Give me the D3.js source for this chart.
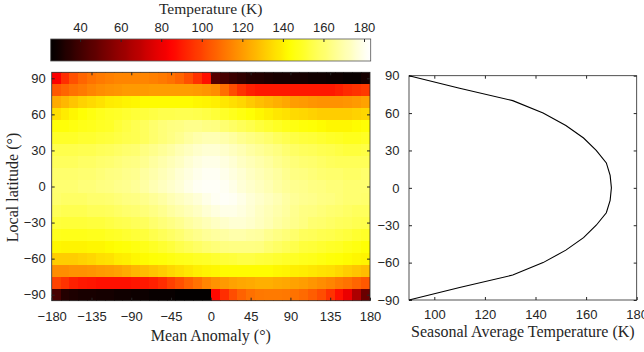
<!DOCTYPE html>
<html>
<head>
<meta charset="utf-8">
<script src="https://cdn.jsdelivr.net/npm/d3@7"></script>
<style>
  body { margin: 0; background: #fff; }
  svg text { fill: #262626; }
  .tick text { font-family: "Liberation Sans", Arial, sans-serif; font-size: 13px; }
  .tick line { stroke: #262626; }
  .lbl { font-family: "Liberation Serif", "Times New Roman", serif; font-size: 16px; }
</style>
</head>
<body>
<svg id="chart" width="644" height="352"></svg>
<script>
// latitude rows (cell centres) and mean anomaly columns (cell centres, 10 deg wide)
const lats = [90, 80, 70, 60, 50, 40, 30, 20, 10, 0, -10, -20, -30, -40, -50, -60, -70, -80, -90];
const anomalies = d3.range(-175, 180, 10);

// temperature (K), one row per latitude, columns -175 .. 175
const temps = [
  /* 90 */ [84, 95, 103, 108, 111, 113, 114, 115, 115, 115, 115, 114, 113, 111, 108, 103, 96, 88, 45, 42, 39, 36, 34, 33, 32, 31, 31, 30, 30, 29, 29, 28, 28, 27, 27, 30],
  /* 80 */ [105, 108, 111, 113, 115, 117, 118, 119, 120, 120, 120, 121, 121, 121, 121, 121, 120, 119, 117, 110, 102, 96, 92, 90, 90, 90, 90, 90, 90, 90, 90, 90, 92, 94, 96, 98],
  /* 70 */ [124, 127, 130, 133, 135, 137, 139, 140, 141, 142, 143, 143, 143, 143, 143, 143, 142, 141, 140, 138, 136, 134, 131, 129, 127, 125, 123, 121, 120, 119, 118, 118, 118, 119, 120, 122],
  /* 60 */ [136, 139, 142, 144, 146, 148, 149, 150, 151, 152, 153, 154, 155, 155, 156, 156, 155, 154, 152, 150, 148, 146, 144, 142, 140, 138, 137, 135, 134, 133, 132, 132, 132, 132, 133, 134],
  /* 50 */ [145, 145, 146, 147, 148, 149, 150, 152, 154, 156, 158, 160, 162, 163, 164, 165, 165, 164, 163, 161, 159, 157, 155, 153, 151, 149, 147, 146, 145, 144, 143, 142, 142, 142, 143, 144],
  /* 40 */ [150, 150, 150, 151, 151, 152, 153, 154, 155, 156, 158, 160, 162, 164, 166, 168, 170, 171, 171, 170, 168, 166, 164, 162, 160, 158, 156, 154, 153, 152, 151, 150, 149, 148, 148, 149],
  /* 30 */ [155, 155, 155, 156, 156, 157, 158, 159, 160, 161, 163, 165, 167, 169, 171, 173, 175, 176, 176, 175, 173, 171, 169, 167, 165, 163, 161, 159, 158, 157, 156, 155, 154, 153, 153, 154],
  /* 20 */ [158, 158, 158, 159, 159, 160, 161, 162, 163, 164, 166, 168, 170, 172, 174, 176, 178, 179, 179, 178, 176, 174, 172, 170, 168, 166, 164, 162, 161, 160, 159, 158, 157, 157, 157, 157],
  /* 10 */ [160, 160, 160, 161, 161, 162, 163, 164, 165, 166, 168, 170, 172, 174, 176, 178, 180, 181, 181, 180, 178, 176, 174, 172, 170, 168, 166, 164, 163, 162, 161, 160, 160, 159, 159, 160],
  /* 0 */  [161, 161, 161, 162, 162, 163, 164, 165, 166, 167, 169, 171, 173, 175, 177, 179, 181, 182, 182, 181, 179, 177, 175, 173, 171, 169, 167, 166, 165, 164, 163, 162, 162, 161, 161, 161],
  /* -10 */ [160, 159, 159, 159, 160, 160, 161, 162, 163, 164, 165, 167, 169, 171, 173, 175, 177, 179, 181, 182, 181, 179, 177, 175, 173, 171, 169, 167, 166, 165, 164, 163, 162, 161, 161, 160],
  /* -20 */ [157, 156, 156, 156, 157, 157, 158, 159, 160, 161, 162, 164, 166, 168, 170, 172, 174, 176, 178, 179, 179, 178, 176, 174, 172, 170, 168, 166, 164, 163, 162, 161, 160, 159, 158, 158],
  /* -30 */ [153, 152, 152, 152, 153, 153, 154, 155, 156, 157, 158, 160, 162, 164, 166, 168, 170, 172, 174, 175, 176, 176, 175, 173, 171, 169, 167, 165, 163, 161, 160, 159, 158, 157, 156, 155],
  /* -40 */ [148, 147, 147, 147, 148, 148, 149, 150, 151, 152, 153, 155, 157, 159, 161, 163, 165, 167, 168, 169, 170, 170, 169, 168, 166, 164, 162, 160, 158, 157, 156, 155, 154, 153, 151, 150],
  /* -50 */ [142, 141, 141, 141, 142, 142, 143, 144, 145, 146, 147, 149, 151, 153, 155, 157, 159, 161, 162, 163, 164, 164, 164, 163, 161, 159, 157, 155, 153, 152, 151, 150, 149, 147, 146, 144],
  /* -60 */ [132, 132, 132, 133, 134, 136, 137, 139, 140, 142, 143, 144, 145, 146, 147, 148, 149, 150, 151, 152, 153, 154, 154, 153, 152, 151, 150, 149, 148, 147, 146, 145, 144, 143, 142, 141],
  /* -70 */ [117, 117, 118, 118, 119, 120, 121, 122, 124, 126, 128, 130, 132, 134, 136, 138, 140, 141, 142, 143, 143, 143, 143, 143, 143, 142, 141, 140, 139, 138, 137, 136, 134, 132, 130, 128],
  /* -80 */ [100, 96, 92, 90, 89, 88, 88, 88, 88, 89, 90, 92, 95, 99, 103, 107, 111, 115, 118, 120, 122, 123, 124, 125, 125, 124, 123, 122, 121, 119, 117, 115, 113, 111, 108, 105],
  /* -90 */ [42, 33, 32, 31, 31, 30, 30, 29, 29, 28, 28, 27, 27, 27, 26, 26, 26, 26, 86, 95, 102, 107, 110, 112, 113, 113, 112, 111, 109, 106, 102, 96, 88, 80, 65, 50]
];

// seasonal average temperature by latitude
const seasonalLat = [-90, -80, -70, -60, -50, -40, -30, -20, -10, 0, 10, 20, 30, 40, 50, 60, 70, 80, 90];
const seasonalTemp = [90, 110, 131, 143, 152, 159, 164, 168, 169.5, 170, 169.5, 168, 164, 159, 152, 143, 131, 110, 90];

const latTicks = [-90, -60, -30, 0, 30, 60, 90];
const anomalyTicks = [-180, -135, -90, -45, 0, 45, 90, 135, 180];
const colorTicks = [40, 60, 80, 100, 120, 140, 160, 180];
const seasonalTicks = [100, 120, 140, 160, 180];
const cLim = [25.5, 183.3];

// MATLAB "hot" colormap (256 levels)
function hot(v) {
  const i = Math.max(0, Math.min(255, Math.floor((v - cLim[0]) / (cLim[1] - cLim[0]) * 256)));
  const k = i + 1;
  const c = t => Math.max(0, Math.min(1, t));
  return d3.rgb(255 * c(k / 96), 255 * c((k - 96) / 96), 255 * c((k - 192) / 64));
}

const svg = d3.select("#chart");
const axisColor = "#262626";

// ---------- heatmap ----------
const x = d3.scaleLinear().domain([-180, 180]).range([51.7, 370]);
const y = d3.scaleLinear().domain([-95, 95]).range([300.7, 72.3]);

const cells = [];
lats.forEach((lat, r) => anomalies.forEach((a, c) => cells.push({ lat, a, v: temps[r][c] })));

svg.append("defs").append("clipPath").attr("id", "heatClip")
  .append("rect")
  .attr("x", x(-180)).attr("y", y(95))
  .attr("width", x(180) - x(-180)).attr("height", y(-95) - y(95));

svg.append("g").attr("clip-path", "url(#heatClip)")
  .attr("shape-rendering", "crispEdges")
  .selectAll("rect").data(cells).join("rect")
  .attr("x", d => x(d.a - 5))
  .attr("y", d => y(d.lat + 5))
  .attr("width", d => x(d.a + 5) - x(d.a - 5) + 1)
  .attr("height", d => y(d.lat - 5) - y(d.lat + 5) + 1)
  .attr("fill", d => hot(d.v));

function styleAxis(g) {
  g.select(".domain").remove();
  g.selectAll(".tick line").attr("stroke", axisColor);
}

svg.append("g").attr("transform", `translate(0,${y(-95)})`)
  .call(d3.axisBottom(x).tickValues(anomalyTicks).tickSize(-3).tickPadding(11))
  .call(styleAxis);
svg.append("g").attr("transform", `translate(0,${y(95)})`)
  .call(d3.axisTop(x).tickValues(anomalyTicks.slice(1, -1)).tickSize(-3).tickFormat(""))
  .call(styleAxis);
svg.append("g").attr("transform", `translate(${x(-180)},0)`)
  .call(d3.axisLeft(y).tickValues(latTicks).tickSize(-3).tickPadding(6))
  .call(styleAxis);
svg.append("g").attr("transform", `translate(${x(180)},0)`)
  .call(d3.axisRight(y).tickValues(latTicks).tickSize(-3).tickFormat(""))
  .call(styleAxis);

svg.append("rect")
  .attr("x", x(-180)).attr("y", y(95))
  .attr("width", x(180) - x(-180)).attr("height", y(-95) - y(95))
  .attr("fill", "none").attr("stroke", axisColor).attr("stroke-width", 0.8);

svg.append("text").attr("class", "lbl")
  .attr("x", (x(-180) + x(180)) / 2).attr("y", 340.7)
  .attr("text-anchor", "middle")
  .text("Mean Anomaly (°)");

svg.append("text").attr("class", "lbl")
  .attr("transform", `translate(18,${(y(95) + y(-95)) / 2 + 1}) rotate(-90)`)
  .attr("text-anchor", "middle")
  .text("Local latitude (°)");

// ---------- colorbar ----------
const cx = d3.scaleLinear().domain(cLim).range([50.7, 370.7]);
const cbTop = 39, cbH = 22;
const stops = d3.range(0, 257, 4).map(i => i / 256);

const grad = svg.select("defs").append("linearGradient").attr("id", "hotGrad");
grad.selectAll("stop").data(stops).join("stop")
  .attr("offset", d => d)
  .attr("stop-color", d => hot(cLim[0] + Math.min(d, 0.999) * (cLim[1] - cLim[0])));

svg.append("rect")
  .attr("x", cx(cLim[0])).attr("y", cbTop)
  .attr("width", cx(cLim[1]) - cx(cLim[0])).attr("height", cbH)
  .attr("fill", "url(#hotGrad)");

svg.append("g").attr("transform", `translate(0,${cbTop})`)
  .call(d3.axisTop(cx).tickValues(colorTicks).tickSize(-3).tickPadding(7))
  .call(styleAxis);

svg.append("rect")
  .attr("x", cx(cLim[0])).attr("y", cbTop)
  .attr("width", cx(cLim[1]) - cx(cLim[0])).attr("height", cbH)
  .attr("fill", "none").attr("stroke", "#555").attr("stroke-width", 0.8);

svg.append("text").attr("class", "lbl")
  .attr("x", (cx(cLim[0]) + cx(cLim[1])) / 2).attr("y", 14)
  .attr("text-anchor", "middle")
  .style("font-size", "15.5px")
  .text("Temperature (K)");

// ---------- seasonal average ----------
const x2 = d3.scaleLinear().domain([90, 180]).range([409, 636.7]);
const y2 = d3.scaleLinear().domain([-90, 90]).range([300, 75.7]);

svg.append("g").attr("transform", `translate(0,${y2(-90)})`)
  .call(d3.axisBottom(x2).tickValues(seasonalTicks).tickSize(-3).tickPadding(10))
  .call(styleAxis);
svg.append("g").attr("transform", `translate(0,${y2(90)})`)
  .call(d3.axisTop(x2).tickValues(seasonalTicks.slice(0, -1)).tickSize(-3).tickFormat(""))
  .call(styleAxis);
svg.append("g").attr("transform", `translate(${x2(90)},0)`)
  .call(d3.axisLeft(y2).tickValues(latTicks).tickSize(-3).tickPadding(9.5))
  .call(styleAxis);
svg.append("g").attr("transform", `translate(${x2(180)},0)`)
  .call(d3.axisRight(y2).tickValues(latTicks).tickSize(-3).tickFormat(""))
  .call(styleAxis);

svg.append("rect")
  .attr("x", x2(90)).attr("y", y2(90))
  .attr("width", x2(180) - x2(90)).attr("height", y2(-90) - y2(90))
  .attr("fill", "none").attr("stroke", axisColor).attr("stroke-width", 0.8);

const line = d3.line()
  .x(d => x2(d[1]))
  .y(d => y2(d[0]));

svg.append("path")
  .datum(seasonalLat.map((lat, i) => [lat, seasonalTemp[i]]))
  .attr("fill", "none")
  .attr("stroke", "#000")
  .attr("stroke-width", 1.1)
  .attr("d", line);

svg.append("text").attr("class", "lbl")
  .attr("x", (x2(90) + x2(180)) / 2).attr("y", 336.7)
  .attr("text-anchor", "middle")
  .text("Seasonal Average Temperature (K)");
</script>
</body>
</html>
